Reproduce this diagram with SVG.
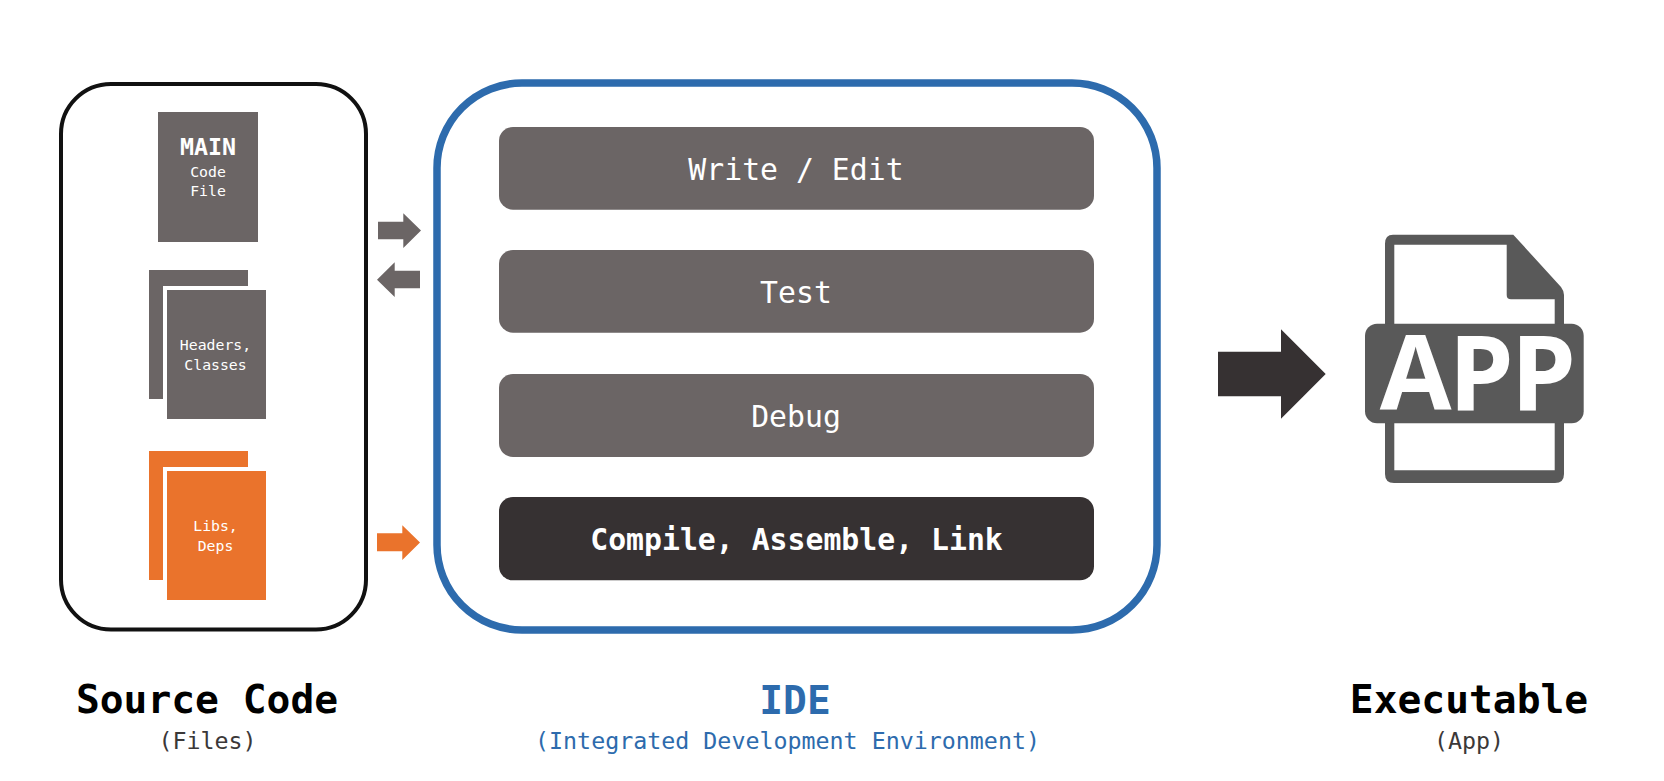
<svg xmlns="http://www.w3.org/2000/svg" width="1664" height="781" viewBox="0 0 1664 781">
<style>
text{font-family:"DejaVu Sans Mono","Liberation Mono",monospace;text-anchor:middle}
.g{fill:#6b6565}.o{fill:#ea732c}.d{fill:#363132}.gap{stroke:#fff;stroke-width:4}
.w{fill:#fff}.b{font-weight:700}
.btn{font-size:29.8px}.sm{font-size:14.8px}
.t{font-size:39.6px;font-weight:700;fill:#000}.s{font-size:23.3px;fill:#3b3838}
.bl{fill:#2d6bad}
</style>
<rect width="1664" height="781" fill="#fff"/>
<g id="source-code">
<rect x="61" y="84" width="305" height="545.5" rx="50" fill="none" stroke="#111" stroke-width="4"/>
<text class="t" x="207" y="713">Source Code</text>
<text class="s" x="207.5" y="748.5">(Files)</text>
</g>
<g id="main-file">
<rect class="g" x="158" y="112" width="100" height="130"/>
<text class="w b" x="208" y="155" font-size="23.3">MAIN</text>
<text class="w sm" x="208" y="177">Code</text>
<text class="w sm" x="208" y="196">File</text>
</g>
<g id="headers-classes">
<rect class="g" x="149" y="270" width="99" height="129"/>
<rect class="g gap" x="165" y="288" width="103" height="133"/>
<text class="w sm" x="215.5" y="350">Headers,</text>
<text class="w sm" x="215.5" y="370">Classes</text>
</g>
<g id="libs-deps">
<rect class="o" x="149" y="451" width="99" height="129"/>
<rect class="o gap" x="165" y="469" width="103" height="133"/>
<text class="w sm" x="215.5" y="531">Libs,</text>
<text class="w sm" x="215.5" y="551">Deps</text>
</g>
<g id="ide">
<rect x="437" y="83" width="720" height="547" rx="85" fill="none" stroke="#2d6bad" stroke-width="7.5"/>
<text class="t bl" x="795" y="714" style="fill:#2d6bad">IDE</text>
<text class="s" x="787.5" y="748.5" style="fill:#2d6bad">(Integrated Development Environment)</text>
</g>
<g id="write-edit">
<rect class="g" x="499" y="127" width="595" height="82.7" rx="14"/>
<text class="w btn" x="796" y="180">Write / Edit</text>
</g>
<g id="test">
<rect class="g" x="499" y="250" width="595" height="82.7" rx="14"/>
<text class="w btn" x="796" y="303">Test</text>
</g>
<g id="debug">
<rect class="g" x="499" y="374" width="595" height="83" rx="14"/>
<text class="w btn" x="796" y="427">Debug</text>
</g>
<g id="compile">
<rect class="d" x="499" y="497" width="595" height="83.3" rx="14"/>
<text class="w btn b" x="796.5" y="550">Compile, Assemble, Link</text>
</g>
<g id="executable">
<path fill="#595959" fill-rule="evenodd" d="M1393 234.7H1513.3L1561 287Q1564 291 1564 295V474Q1564 483 1555 483H1394Q1385 483 1385 474V243.7Q1385 234.7 1393 234.7ZM1394.3 244.7V470.3H1554.7V299.3H1511Q1506.7 299.3 1506.7 295V244.7Z"/>
<rect x="1365" y="323.7" width="218.7" height="99.6" rx="12" fill="#595959"/>
<text x="1476.5" y="410" font-size="104" font-weight="700" fill="#fff" letter-spacing="-3" style="font-family:'Open Sans','Liberation Sans',sans-serif">APP</text>
<text class="t" x="1469" y="713">Executable</text>
<text class="s" x="1469" y="748.5">(App)</text>
</g>
<g id="connectors">
<polygon class="g" points="378,221.7 403.3,221.7 403.3,213.3 421,230.6 403.3,248 403.3,239.3 378,239.3"/>
<polygon class="g" points="420,270.7 394.7,270.7 394.7,262.3 377,279.7 394.7,297 394.7,288.3 420,288.3"/>
<polygon class="o" points="377,533.3 402.3,533.3 402.3,525.3 420,542.6 402.3,560 402.3,551.3 377,551.3"/>
<polygon class="d" points="1218,351.7 1281,351.7 1281,329.3 1325.7,374 1281,418.7 1281,396.3 1218,396.3"/>
</g>
</svg>
